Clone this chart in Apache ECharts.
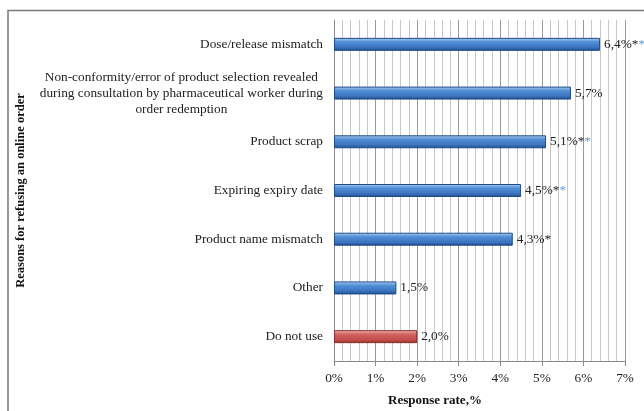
<!DOCTYPE html>
<html lang="en">
  <head>
    <meta charset="UTF-8" />
    <title>Reasons for refusing an online order</title>
    <script src="https://cdn.jsdelivr.net/npm/echarts@6.0.0/dist/echarts.min.js"></script>
    <style>
      html, body { margin: 0; padding: 0; background: #fff; }
      #main { width: 644px; height: 411px; }
    </style>
  </head>
  <body>
    <div id="main"></div>
    <script>
      const categories = [
        "Dose/release mismatch",
        "Non-conformity/error of product selection revealed\nduring consultation by pharmaceutical worker during\norder redemption",
        "Product scrap",
        "Expiring expiry date",
        "Product name mismatch",
        "Other",
        "Do not use",
      ];
      const values = [6.4, 5.7, 5.1, 4.5, 4.3, 1.5, 2.0];
      // significance marks after each label: black star / blue star
      const blackStars = ["*", "", "*", "*", "*", "", ""];
      const blueStars = ["*", "", "*", "*", "", "", ""];
      const xTicks = [0, 1, 2, 3, 4, 5, 6, 7];

      const font = "'Liberation Serif', 'Times New Roman', serif";
      const fs = 13.3;

      function barColor(red) {
        if (red) {
          return new echarts.graphic.LinearGradient(0, 0, 0, 1, [
            { offset: 0, color: "#f3c2c0" },
            { offset: 0.3, color: "#d4625e" },
            { offset: 0.75, color: "#c0504d" },
            { offset: 1, color: "#8e2f2c" },
          ]);
        }
        return new echarts.graphic.LinearGradient(0, 0, 0, 1, [
          { offset: 0, color: "#b4d1f3" },
          { offset: 0.3, color: "#5290d8" },
          { offset: 0.75, color: "#3b72bd" },
          { offset: 1, color: "#1d4a85" },
        ]);
      }

      let chart = echarts.init(document.getElementById("main"));

      let seriesData = values.map((v, i) => ({
        value: v,
        itemStyle: {
          color: barColor(i === values.length - 1),
          borderColor: i === values.length - 1 ? "#8b2e2b" : "#1f4c88",
          borderWidth: 1,
        },
      }));

      let options = {
        animation: false,
        graphic: [
          {
            type: "polyline",
            shape: { points: [[8, 411], [8, 10.5], [644, 10.5]] },
            style: { stroke: "#7a7a7a", lineWidth: 1.5, fill: null },
          },
          {
            type: "text",
            left: 388,
            top: 394,
            style: {
              text: "Response rate,%",
              font: "bold 13px " + font,
              fill: "#111",
            },
          },
        ],
        grid: { left: 334, right: 19, top: 20, bottom: 50 },
        xAxis: {
          type: "value",
          min: xTicks[0],
          max: xTicks[xTicks.length - 1],
          interval: 1,
          axisLine: { show: true, lineStyle: { color: "#8a8a8a" } },
          axisTick: { show: true, length: 5, lineStyle: { color: "#8a8a8a" } },
          axisLabel: {
            formatter: "{value}%",
            fontFamily: font,
            fontSize: fs,
            color: "#222",
            margin: 11,
          },
          splitLine: { show: true, lineStyle: { color: "#9a9a9a", width: 1 } },
          minorTick: { show: false, splitNumber: 5 },
          minorSplitLine: { show: true, lineStyle: { color: "#c8c8c8", width: 1 } },
        },
        yAxis: {
          type: "category",
          data: categories,
          inverse: true,
          name: "Reasons for refusing an online order",
          nameLocation: "middle",
          nameRotate: 90,
          nameGap: 307,
          nameTextStyle: {
            fontFamily: font,
            fontSize: 12.5,
            fontWeight: "bold",
            color: "#111",
          },
          axisLine: { show: true, lineStyle: { color: "#8a8a8a" } },
          axisTick: { show: false },
          axisLabel: {
            fontFamily: font,
            fontSize: fs,
            color: "#222",
            margin: 11,
            lineHeight: 16,
            formatter: (v) =>
              v.split("\n").map((s) => "{c|" + s + "}").join("\n"),
            rich: { c: { align: "center", fontFamily: font, fontSize: fs, lineHeight: 16 } },
          },
        },
        series: [
          {
            type: "bar",
            data: seriesData,
            barWidth: 13,
            label: {
              show: true,
              position: "right",
              distance: 4,
              formatter: (p) => {
                let i = p.dataIndex;
                let t = values[i].toFixed(1).replace(".", ",") + "%" + blackStars[i];
                return "{a|" + t + "}" + (blueStars[i] ? "{b|" + blueStars[i] + "}" : "");
              },
              rich: {
                a: { fontFamily: font, fontSize: fs, color: "#222" },
                b: { fontFamily: font, fontSize: fs, color: "#5b9bd5" },
              },
            },
          },
        ],
      };

      chart.setOption(options);
    </script>
  </body>
</html>
